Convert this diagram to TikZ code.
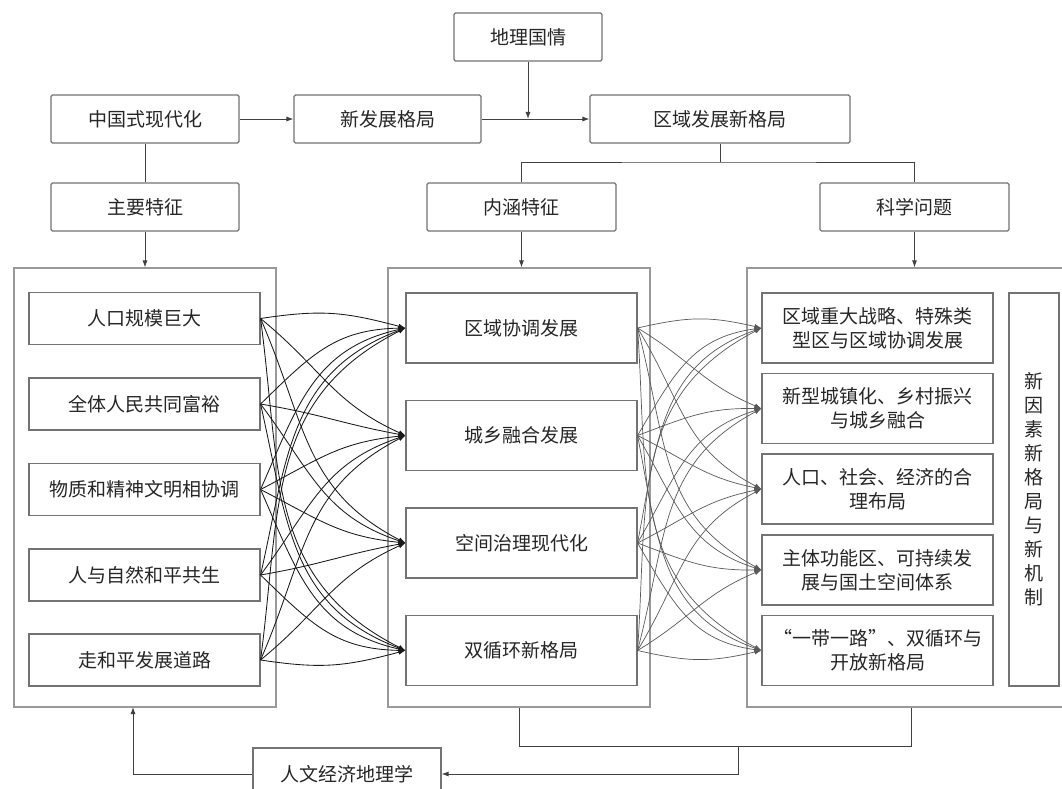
\documentclass[tikz,border=0pt]{standalone}
\usepackage{fontspec}
\setmainfont{Noto Sans CJK SC}
\usetikzlibrary{arrows.meta}

% y positions (pixels from the top) of the three columns of boxes
\def\lys{{318.5,404,489.5,575,660}}
\def\mys{{328,435.5,543,650.5}}
\def\rys{{328,408.5,489,570,650.5}}

\begin{document}
\begin{tikzpicture}[x=1pt, y=1pt, >={Latex[length=7pt,width=5pt]},
        every node/.style={font=\fontsize{19}{24}\selectfont, text=black!85},
        box/.style={draw=black!55, line width=1.1pt, rounded corners=1.5pt, align=center, inner sep=0pt,
            minimum height=48pt},
        lbox/.style={draw=black!55, line width=1.1pt, align=center, inner sep=0pt,
            minimum width=231pt, minimum height=52pt},
        mbox/.style={lbox, minimum height=70pt},
        panel/.style={draw=black!40, line width=1.1pt, inner sep=0pt, minimum height=439pt},
        wire/.style={draw=black!75, line width=0.9pt},
        link/.style={black!90, line width=0.85pt}]
        \fill[white] (0,0) rectangle (1062,-789);
        \useasboundingbox (0,0) rectangle (1062,-789);
        \clip (0,0) rectangle (1062,-789);

        % Top
        \node[box, minimum width=148pt] (geo) at (528,-37) {地理国情};
        \node[box, minimum width=188pt] (cmod) at (145,-119) {中国式现代化};
        \node[box, minimum width=187pt] (newdev) at (387.5,-119) {新发展格局};
        \node[box, minimum width=260pt] (regdev) at (720,-119) {区域发展新格局};
        \node[box, minimum width=188pt] (mainf) at (145,-207) {主要特征};
        \node[box, minimum width=189pt] (conn) at (521.5,-207) {内涵特征};
        \node[box, minimum width=189pt] (sci) at (914.5,-207) {科学问题};

        % Panels
        \node[panel, minimum width=262pt] (lpanel) at (145,-487.5) {};
        \node[panel, minimum width=262pt] (mpanel) at (519,-487.5) {};
        \node[panel, minimum width=328pt] (rpanel) at (911,-487.5) {};

        % Main features
        \node[lbox] (l1) at (144.5,-318.5) {人口规模巨大};
        \node[lbox] (l2) at (144.5,-404) {全体人民共同富裕};
        \node[lbox] (l3) at (144.5,-489.5) {物质和精神文明相协调};
        \node[lbox] (l4) at (144.5,-575) {人与自然和平共生};
        \node[lbox] (l5) at (144.5,-660) {走和平发展道路};

        % Connotation
        \node[mbox] (m1) at (521.5,-328) {区域协调发展};
        \node[mbox] (m2) at (521.5,-435.5) {城乡融合发展};
        \node[mbox] (m3) at (521.5,-543) {空间治理现代化};
        \node[mbox] (m4) at (521.5,-650.5) {双循环新格局};

        % Questions
        \node[mbox] (r1) at (877.5,-328) {区域重大战略、特殊类\\型区与区域协调发展};
        \node[mbox] (r2) at (877.5,-408.5) {新型城镇化、乡村振兴\\与城乡融合};
        \node[mbox] (r3) at (877.5,-489) {人口、社会、经济的合\\理布局};
        \node[mbox] (r4) at (877.5,-570) {主体功能区、可持续发\\展与国土空间体系};
        \node[mbox] (r5) at (877.5,-650.5) {“一带一路”、双循环与\\开放新格局};
        \node[lbox, minimum width=50pt, minimum height=393pt] (nf) at (1034,-489.5)
            {新\\因\\素\\新\\格\\局\\与\\新\\机\\制};

        \node[box, minimum width=188pt, minimum height=52pt, rounded corners=0pt] (hum) at (347,-774) {人文经济地理学};

        % Arrows
        \draw[wire, ->] (cmod) -- (newdev);
        \draw[wire, ->] (newdev) -- (regdev);
        \draw[wire, ->] (geo) -- (geo |- newdev);
        \draw[wire] (cmod) -- (mainf);
        \coordinate (split) at (720,-162);
        \draw[wire] (regdev) -- (split);
        \draw[wire] (conn.north) |- (split) -| (sci.north);
        \draw[wire, ->] (mainf) -- (lpanel);
        \draw[wire, ->] (conn.south) -- (conn.south |- mpanel.north);
        \draw[wire, ->] (sci.south) -- (sci.south |- rpanel.north);

        % Links
        \foreach \s in {1,...,5}{
            \foreach \t in {1,...,4}{
                \pgfmathsetmacro\dy{\lys[\s-1]-\mys[\t-1]}
                \pgfmathsetmacro\al{atan2(\dy,146)}
                \pgfmathsetmacro\bw{0.08*(489.5-(\lys[\s-1]+\mys[\t-1])/2)}
                \pgfmathsetmacro\ao{1.25*\al+\bw}
                \pgfmathsetmacro\ai{180+0.4*\al-\bw}
                \draw[link, ->] (l\s.east) to[out=\ao, in=\ai, looseness=1.1] (m\t.west);
            }
        }
        \foreach \s in {1,...,4}{
            \foreach \t in {1,...,5}{
                \pgfmathsetmacro\dy{\mys[\s-1]-\rys[\t-1]}
                \pgfmathsetmacro\al{atan2(\dy,125)}
                \pgfmathsetmacro\bw{0.08*(489.5-(\mys[\s-1]+\rys[\t-1])/2)}
                \pgfmathsetmacro\ao{1.25*\al+\bw}
                \pgfmathsetmacro\ai{180+0.4*\al-\bw}
                \draw[link, black!65, line width=0.7pt, ->] (m\s.east) to[out=\ao, in=\ai, looseness=1.1] (r\t.west);
            }
        }

        % Feedback
        \coordinate (fbr) at (911,-746);
        \coordinate (fbm) at (738,-746);
        \coordinate (fbup) at (133,-707);
        \draw[wire] (mpanel.south) |- (fbr) -- (rpanel.south);
        \draw[wire, ->] (fbm) |- (hum.east);
        \draw[wire, ->] (hum.west) -| (fbup);
    \end{tikzpicture}
\end{document}
